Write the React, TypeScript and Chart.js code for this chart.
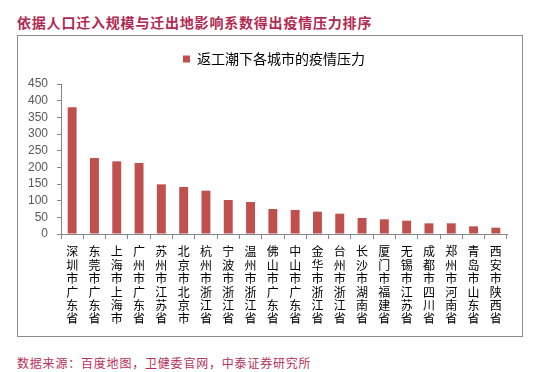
import React, { useEffect, useRef } from "react";
import { Chart, registerables } from "chart.js";

Chart.register(...registerables);

const titleText = "依据人口迁入规模与迁出地影响系数得出疫情压力排序";
const sourceText = "数据来源：百度地图，卫健委官网，中泰证券研究所";
const seriesName = "返工潮下各城市的疫情压力";

const cities = [
  "深圳市广东省",
  "东莞市广东省",
  "上海市上海市",
  "广州市广东省",
  "苏州市江苏省",
  "北京市北京市",
  "杭州市浙江省",
  "宁波市浙江省",
  "温州市浙江省",
  "佛山市广东省",
  "中山市广东省",
  "金华市浙江省",
  "台州市浙江省",
  "长沙市湖南省",
  "厦门市福建省",
  "无锡市江苏省",
  "成都市四川省",
  "郑州市河南省",
  "青岛市山东省",
  "西安市陕西省",
];

const pressure = [380, 228, 218, 213, 149, 141, 130, 102, 96, 75, 72, 67, 61, 48, 44, 40, 32, 32, 23, 19];

const yMin = 0;
const yMax = 450;
const yStep = 50;

const CJK = '"Noto Sans CJK SC", "Noto Sans", sans-serif';

export default function App() {
  const ref = useRef<HTMLCanvasElement>(null);

  useEffect(() => {
    if (!ref.current) return;
    const chart = new Chart(ref.current, {
      type: "bar",
      data: {
        labels: cities.map((c) => Array.from(c)),
        datasets: [
          {
            label: seriesName,
            data: pressure,
            backgroundColor: "#C0504D",
            borderWidth: 0,
            barPercentage: 0.4,
            categoryPercentage: 1,
            yAxisID: "y",
          },
        ],
      },
      options: {
        animation: false,
        responsive: false,
        maintainAspectRatio: false,
        layout: { padding: { top: 6, right: 0, left: 8, bottom: 0 } },
        plugins: {
          legend: {
            display: true,
            position: "top",
            labels: {
              boxWidth: 7,
              boxHeight: 7,
              color: "#000000",
              font: { family: CJK, size: 14 },
              padding: 10,
            },
          },
          title: {
            display: true,
            text: "",
            position: "top",
            weight: 500,
            padding: 0,
            font: { size: 8, lineHeight: 1 },
          },
          tooltip: { enabled: false },
        },
        scales: {
          x: {
            grid: {
              display: true,
              drawOnChartArea: false,
              drawTicks: true,
              tickLength: 5,
              color: "#868686",
              offset: true,
            },
            border: { display: true, color: "#868686", width: 1 },
            ticks: {
              autoSkip: false,
              maxRotation: 0,
              minRotation: 0,
              padding: 6,
              color: "#000000",
              font: { family: CJK, size: 12, lineHeight: 1.12 },
            },
            afterFit: (s: any) => {
              s.height = 102;
            },
          },
          y: {
            position: "left",
            min: yMin,
            max: yMax,
            ticks: {
              stepSize: yStep,
              autoSkip: false,
              padding: 9,
              color: "#595959",
              font: { family: '"Liberation Sans", Arial, sans-serif', size: 12 },
            },
            grid: {
              display: true,
              drawOnChartArea: false,
              drawTicks: true,
              tickLength: 4,
              color: "#868686",
            },
            border: { display: true, color: "#868686", width: 1 },
            afterFit: (s: any) => {
              s.width = 35;
            },
          },
          yRight: {
            type: "linear",
            position: "right",
            display: true,
            grid: { display: false, drawOnChartArea: false },
            border: { display: false },
            ticks: { display: false },
            afterFit: (s: any) => {
              s.width = 15;
            },
          },
        },
      },
    });
    return () => chart.destroy();
  }, []);

  return (
    <div
      style={{
        position: "absolute",
        left: 0,
        top: 0,
        width: 554,
        height: 372,
        background: "#ffffff",
        overflow: "hidden",
      }}
    >
      <div
        style={{
          position: "absolute",
          left: 17,
          top: 12,
          fontFamily: CJK,
          fontSize: 14,
          fontWeight: "bold",
          letterSpacing: "0.8px",
          color: "#B22A52",
          lineHeight: "20px",
          whiteSpace: "nowrap",
        }}
      >
        {titleText}
      </div>
      <div
        style={{
          position: "absolute",
          left: 17,
          top: 35,
          width: 504,
          height: 300,
          border: "1px solid #8C8C8C",
        }}
      >
        <canvas ref={ref} width={504} height={300} style={{ display: "block", width: 504, height: 300 }} />
      </div>
      <div
        style={{
          position: "absolute",
          left: 17,
          top: 354,
          fontFamily: CJK,
          fontSize: 12,
          letterSpacing: "0.8px",
          color: "#B8305A",
          lineHeight: "18px",
          whiteSpace: "nowrap",
        }}
      >
        {sourceText}
      </div>
    </div>
  );
}
